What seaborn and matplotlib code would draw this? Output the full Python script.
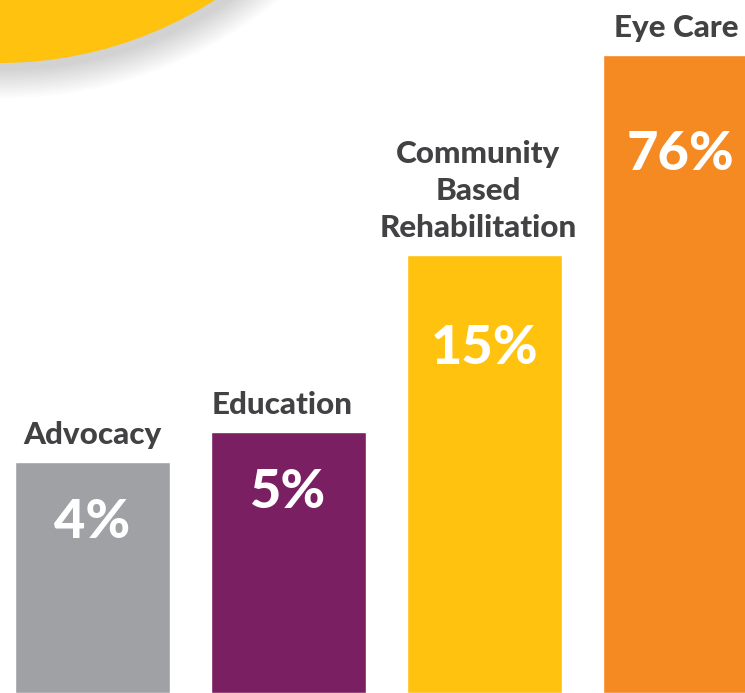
import matplotlib
matplotlib.use("Agg")
import matplotlib.pyplot as plt
import seaborn as sns
import pandas as pd
from matplotlib.patches import Circle

# data
categories = ["Advocacy", "Education", "Community\nBased\nRehabilitation", "Eye Care"]
labels = ["4%", "5%", "15%", "76%"]
bar_heights = [231, 261, 438, 638]  # drawn heights (infographic, not to scale)
colors = ["#A0A1A5", "#7A1F61", "#FFC20F", "#F58A23"]

df = pd.DataFrame({"category": categories, "height": bar_heights})

sns.set_theme(style="white")
plt.rcParams["font.family"] = ["Lato", "DejaVu Sans"]

fig = plt.figure(figsize=(7.45, 6.93), dpi=100)

# yellow circle with a soft shadow, top-left corner
bg = fig.add_axes([0, 0, 1, 1], zorder=-1)
bg.set_xlim(0, 745)
bg.set_ylim(693, 0)
bg.axis("off")
for k in range(30, 0, -2):
    bg.add_patch(Circle((6, -330), 398 + k, color="#000000", alpha=0.012, lw=0))
bg.add_patch(Circle((0, -335), 398, color="#FFC20F", lw=0))

ax = fig.add_axes([0, 0, 1, 1])
ax.patch.set_alpha(0)
sns.barplot(data=df, x="category", y="height", hue="category", palette=colors,
            width=0.79, saturation=1, legend=False, ax=ax)

ax.set_xlim(-0.47, 3.33)
ax.set_ylim(0, 693)
ax.axis("off")

label_offsets = [60, 60, 93, 100]
label_shift = [0, -0.03, -0.03, -0.02]
for i, (cat, h, lab) in enumerate(zip(categories, bar_heights, labels)):
    ax.text(i + label_shift[i], h + 13, cat, ha="center", va="bottom", fontsize=22.6,
            fontweight="black", color="#424143", linespacing=1.4)
    ax.text(i, h - label_offsets[i], lab, ha="center", va="center",
            fontsize=39, fontweight="black", color="white")

fig.savefig("out.png", dpi=100)
